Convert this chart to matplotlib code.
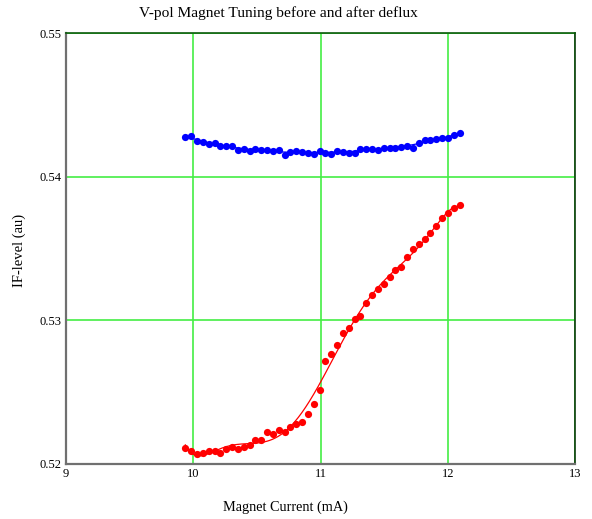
import numpy as np
import matplotlib
matplotlib.use('Agg')
import matplotlib.pyplot as plt

# --------------------------------------------------------------------------------
# Data
a1dCurrent = [9.938, 9.985, 10.032, 10.077, 10.121, 10.169, 10.213, 10.260,
              10.305, 10.352, 10.396, 10.444, 10.488, 10.535, 10.580, 10.627,
              10.672, 10.719, 10.763, 10.810, 10.855, 10.902, 10.949, 10.994,
              11.038, 11.080, 11.130, 11.177, 11.222, 11.269, 11.313, 11.360,
              11.405, 11.452, 11.497, 11.544, 11.588, 11.633, 11.680, 11.727,
              11.772, 11.819, 11.863, 11.910, 11.955, 12.002, 12.049, 12.094]

a1dAfter = [0.54278, 0.54285, 0.54251, 0.54239, 0.54228, 0.54237, 0.54214, 0.54212,
            0.54212, 0.54184, 0.54193, 0.54181, 0.54191, 0.54186, 0.54184, 0.54181,
            0.54186, 0.54153, 0.54174, 0.54177, 0.54172, 0.54163, 0.54158, 0.54179,
            0.54163, 0.54156, 0.54179, 0.54172, 0.54165, 0.54163, 0.54191, 0.54191,
            0.54193, 0.54188, 0.54202, 0.54200, 0.54202, 0.54207, 0.54216, 0.54198,
            0.54232, 0.54253, 0.54253, 0.54260, 0.54269, 0.54271, 0.54290, 0.54304]

a1dBefore = [0.52110, 0.52093, 0.52070, 0.52075, 0.52091, 0.52089, 0.52079, 0.52107,
             0.52117, 0.52105, 0.52121, 0.52135, 0.52169, 0.52169, 0.52221, 0.52207,
             0.52235, 0.52225, 0.52260, 0.52277, 0.52295, 0.52346, 0.52416, 0.52515,
             0.52715, 0.52766, 0.52826, 0.52910, 0.52949, 0.53007, 0.53030, 0.53119,
             0.53177, 0.53216, 0.53251, 0.53304, 0.53349, 0.53369, 0.53439, 0.53495,
             0.53529, 0.53568, 0.53606, 0.53655, 0.53710, 0.53745, 0.53780, 0.53801]

a1dXTicks = [9, 10, 11, 12, 13]
a1dYTicks = [0.52, 0.53, 0.54, 0.55]
a1sYTickLabels = ['0.52', '0.53', '0.54', '0.55']
# --------------------------------------------------------------------------------

plt.rcParams['font.family'] = ['Liberation Serif', 'DejaVu Serif']

oFig = plt.figure(figsize=(5.92, 5.19), dpi=100)
oAx = oFig.add_axes([0.1115, 0.106, 0.8598, 0.8304])

# Smooth fit lines through the measured points
a1dX = np.asarray(a1dCurrent)
a1dXn = (a1dX - a1dX.mean()) / a1dX.std()
a1dXFine = np.linspace(a1dX.min(), a1dX.max(), 300)
a1dXFineN = (a1dXFine - a1dX.mean()) / a1dX.std()
a1dFitBlue = np.polyval(np.polyfit(a1dXn, a1dAfter, 4), a1dXFineN)
a1dFitRed = np.polyval(np.polyfit(a1dXn, a1dBefore, 7), a1dXFineN)

oAx.plot(a1dXFine, a1dFitBlue, color='#0000ff', lw=0.9, zorder=3)
oAx.plot(a1dXFine, a1dFitRed, color='#ff0000', lw=0.9, zorder=3)
oAx.plot(a1dCurrent, a1dAfter, 'o', color='#0000ff', ms=5.2, mec='none', zorder=4)
oAx.plot(a1dCurrent, a1dBefore, 'o', color='#ff0000', ms=5.2, mec='none', zorder=4)

oAx.set_xlim(9, 13)
oAx.set_ylim(0.52, 0.55)
oAx.set_xticks(a1dXTicks)
oAx.set_yticks(a1dYTicks)
oAx.set_yticklabels(a1sYTickLabels)
oAx.tick_params(length=0, labelsize=9, pad=3)
oAx.grid(True, color='#44ee44', lw=1.2)
oAx.set_axisbelow(True)

for sSide in ['left', 'bottom']:
    oAx.spines[sSide].set_color('#707070')
    oAx.spines[sSide].set_linewidth(1.6)
oAx.spines['top'].set_color('#0a5a0a')
oAx.spines['right'].set_color('#0a3a0a')
oAx.spines['top'].set_linewidth(1.2)
oAx.spines['right'].set_linewidth(1.2)

# Titles placed as in the reference (not centred on the axes)
oFig.text(0.470, 0.974, 'V-pol Magnet Tuning before and after deflux',
          fontsize=11.1, ha='center', va='center')
oFig.text(0.483, 0.023, 'Magnet Current (mA)', fontsize=10.3, ha='center', va='center')
oFig.text(0.033, 0.518, 'IF-level (au)', fontsize=10.5, ha='center', va='center',
          rotation=90)

oFig.savefig('out.png', dpi=100)
